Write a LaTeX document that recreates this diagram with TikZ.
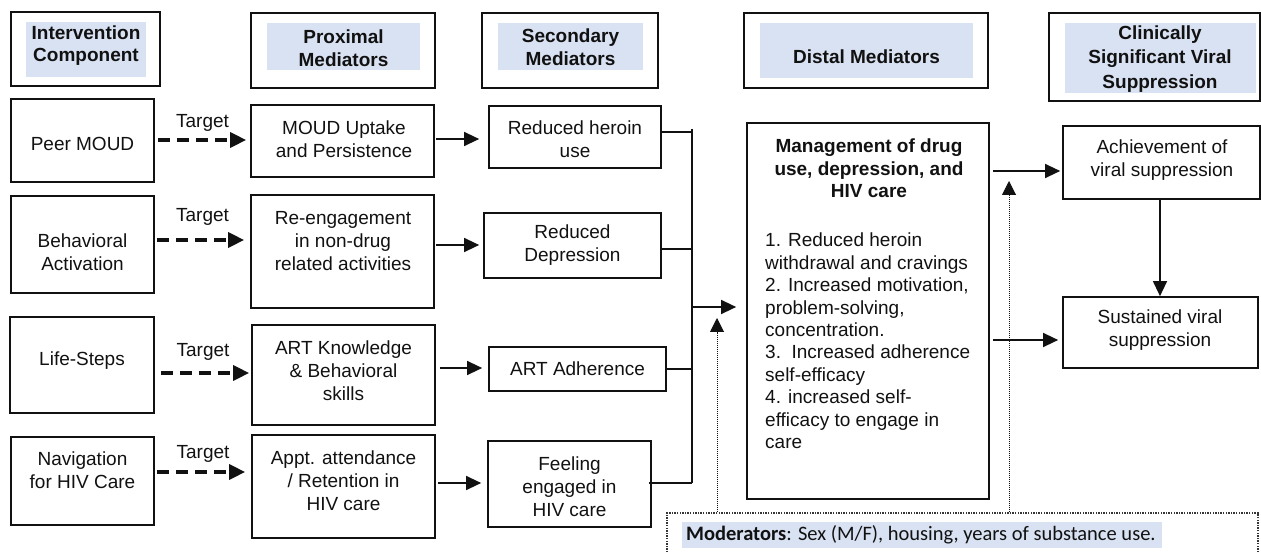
\documentclass[tikz,border=0pt]{standalone}
\usepackage{fontspec}
\setmainfont{Liberation Sans}
\newfontfamily\calibri{Carlito}
\usetikzlibrary{arrows.meta,fit}
\definecolor{hdrfill}{HTML}{D9E2F3}
\definecolor{ink}{HTML}{111111}
\begin{document}
\begin{tikzpicture}[x=1pt,y=-1pt,
  box/.style={draw=ink, line width=1.7pt, inner sep=0pt},
  hfill/.style={fill=hdrfill, inner sep=0pt},
  txt/.style={font=\fontsize{19}{23}\selectfont, align=center, inner sep=0pt, text=ink},
  htxt/.style={font=\fontsize{19}{23}\selectfont\bfseries, align=center, inner sep=0pt, text=ink},
  tgt/.style={draw=ink, line width=3.2pt, dash pattern=on 12pt off 7pt, -{Triangle[length=16pt,width=15pt]}},
  arr/.style={draw=ink, line width=1.3pt, -{Triangle[length=15pt,width=14pt]}},
  con/.style={draw=ink, line width=1.3pt},
  dotarr/.style={draw=ink, line width=1pt, dash pattern=on 1pt off 1pt, -{Triangle[length=14pt,width=14pt]}},
  tlabel/.style={midway, font=\fontsize{19}{23}\selectfont, inner sep=0pt, text=ink},
]
\useasboundingbox (0,0) rectangle (1261,553);
\clip (0,0) rectangle (1261,553);

% ---------- headers ----------
\node[box, fit={(11,12)(160,86)}] (hIC) {};
\node[hfill, fit={(26,22)(146,77)}] (hICf) {};
\node[htxt, font=\fontsize{19}{22}\selectfont\bfseries] (hICt) at (86,46) {Intervention\\Component};

\node[box, fit={(251,13)(435,88)}] (hPM) {};
\node[hfill, fit={(267,23)(420,70)}] (hPMf) {};
\node[htxt] (hPMt) at (343.5,48) {Proximal\\Mediators};

\node[box, fit={(482,13)(658,88)}] (hSM) {};
\node[hfill, fit={(498,23)(643,70)}] (hSMf) {};
\node[htxt] (hSMt) at (570.5,47) {Secondary\\Mediators};

\node[box, fit={(744,13)(988,88)}] (hDM) {};
\node[hfill, fit={(760,23)(973,78)}] (hDMf) {};
\node[htxt] (hDMt) at (866.5,57) {Distal Mediators};

\node[box, fit={(1049,13)(1260,101)}] (hCS) {};
\node[hfill, fit={(1065,23)(1256,93)}] (hCSf) {};
\node[htxt, font=\fontsize{19}{24.5}\selectfont\bfseries] (hCSt) at (1160,59) {Clinically\\Significant Viral\\Suppression};

% ---------- intervention components ----------
\node[box, fit={(11,99)(154,182)}] (peer) {};
\node[txt] (peerT) at (82.5,144) {Peer MOUD};
\node[box, fit={(11,196)(154,293)}] (behav) {};
\node[txt] (behavT) at (82.5,252.5) {Behavioral\\Activation};
\node[box, fit={(10,317)(154,413)}] (life) {};
\node[txt] (lifeT) at (82,361) {Life-Steps};
\node[box, fit={(11,437)(154,525)}] (nav) {};
\node[txt] (navT) at (82.5,470) {Navigation\\for HIV Care};

% ---------- proximal mediators ----------
\node[box, fit={(251,105)(434,177)}] (moud) {};
\node[txt] (moudT) at (344,139) {MOUD Uptake\\and Persistence};
\node[box, fit={(251,195)(434,308)}] (reeng) {};
\node[txt] (reengT) at (343,241) {Re-engagement\\in non-drug\\related activities};
\node[box, fit={(252,325)(435,425)}] (artk) {};
\node[txt] (artkT) at (343.5,370.5) {ART Knowledge\\\& Behavioral\\skills};
\node[box, fit={(252,435)(435,538)}] (appt) {};
\node[txt] (apptT) at (343.5,481) {Appt. attendance\\/ Retention in\\HIV care};

% ---------- secondary mediators ----------
\node[box, fit={(489,106)(661,168)}] (heroin) {};
\node[txt] (heroinT) at (575,139.5) {Reduced heroin\\use};
\node[box, fit={(484,213)(661,278)}] (depr) {};
\node[txt] (deprT) at (572.5,245.5) {Reduced\\Depression};
\node[box, fit={(489,347)(666,391)}] (artadh) {};
\node[txt] (artadhT) at (577.5,369) {ART Adherence};
\node[box, fit={(488,441)(651,527)}] (feel) {};
\node[txt] (feelT) at (569.5,487) {Feeling\\engaged in\\HIV care};

% ---------- distal mediators ----------
\node[box, fit={(747,123)(989,499)}] (distal) {};
\node[htxt, font=\fontsize{19}{22.4}\selectfont\bfseries] (distalT) at (869,168.5) {Management of drug\\use, depression, and\\HIV care};
\node[txt, align=left, anchor=west, font=\fontsize{19}{22.4}\selectfont] (distalL) at (765,341) {1. Reduced heroin\\withdrawal and cravings\\2. Increased motivation,\\problem-solving,\\concentration.\\3.\ \ Increased adherence\\self-efficacy\\4. increased self-\\efficacy to engage in\\care};

% ---------- outcomes ----------
\node[box, fit={(1063,126)(1260,199)}] (ach) {};
\node[txt] (achT) at (1162,160.5) {Achievement of\\viral suppression};
\node[box, fit={(1063,297)(1258,368)}] (sust) {};
\node[txt] (sustT) at (1160,330) {Sustained viral\\suppression};

% ---------- moderators ----------
\node[draw=ink!85, line width=1.5pt, dash pattern=on 1.4pt off 1.2pt, inner sep=0pt, fit={(667,513)(1258,580)}] (mod) {};
\node[hfill, fit={(682,522)(1162,548)}] (modf) {};
\node[anchor=west, inner sep=0pt, text=ink, font=\calibri\fontsize{20.5}{24}\selectfont] (modT) at (686,535) {\textbf{Moderators}: Sex (M/F), housing, years of substance use.};

% ---------- target arrows ----------
\draw[tgt, shorten <=3pt, shorten >=4pt] (peer.east |- 0,140) -- node[tlabel, yshift=17pt] (tg1) {Target} (moud.west |- 0,140);
\draw[tgt, shorten <=2pt, shorten >=6pt] (behav.east |- 0,240) -- node[tlabel, yshift=23pt] (tg2) {Target} (reeng.west |- 0,240);
\draw[tgt, shorten <=6pt, shorten >=2pt] (life.east |- 0,373) -- node[tlabel, yshift=21pt] (tg3) {Target} (artk.west |- 0,373);
\draw[tgt, shorten <=2pt, shorten >=6pt] (nav.east |- 0,472) -- node[tlabel, yshift=18pt] (tg4) {Target} (appt.west |- 0,472);

% ---------- proximal -> secondary ----------
\draw[arr, shorten <=1pt, shorten >=9pt] (moud.east |- 0,139) -- (heroin.west |- 0,139);
\draw[arr, shorten <=1pt, shorten >=4pt] (reeng.east |- 0,245) -- (depr.west |- 0,245);
\draw[arr, shorten <=4pt, shorten >=6pt] (artk.east |- 0,368) -- (artadh.west |- 0,368);
\draw[arr, shorten <=2pt, shorten >=6pt] (appt.east |- 0,483) -- (feel.west |- 0,483);

% ---------- bus to distal ----------
\coordinate (bt) at (692,129);
\coordinate (bb) at (692,483);
\coordinate (bo) at (692,307);
\draw[con] (bt) -- (bb);
\draw[con] (heroin.east |- 0,132) -- (bt |- 0,132);
\draw[con] (depr.east |- 0,249) -- (bt |- 0,249);
\draw[con] (artadh.east |- 0,369) -- (bt |- 0,369);
\draw[con, shorten <=-3pt] (feel.east |- bb) -- (bb);
\draw[arr, shorten >=10pt] (bo) -- (distal.west |- bo);

% ---------- distal -> outcomes ----------
\draw[arr, shorten <=3pt, shorten >=2pt] (distal.east |- 0,171) -- (ach.west |- 0,171);
\draw[arr, shorten <=3pt, shorten >=4pt] (distal.east |- 0,340) -- (sust.west |- 0,340);
\draw[arr] (ach.south -| 1160,0) -- (sust.north -| 1160,0);

% ---------- moderator arrows ----------
\coordinate (m1) at (717,318);
\coordinate (m2) at (1009,181);
\draw[dotarr] (mod.north -| m1) -- (m1);
\draw[dotarr] (mod.north -| m2) -- (m2);
\end{tikzpicture}
\end{document}
